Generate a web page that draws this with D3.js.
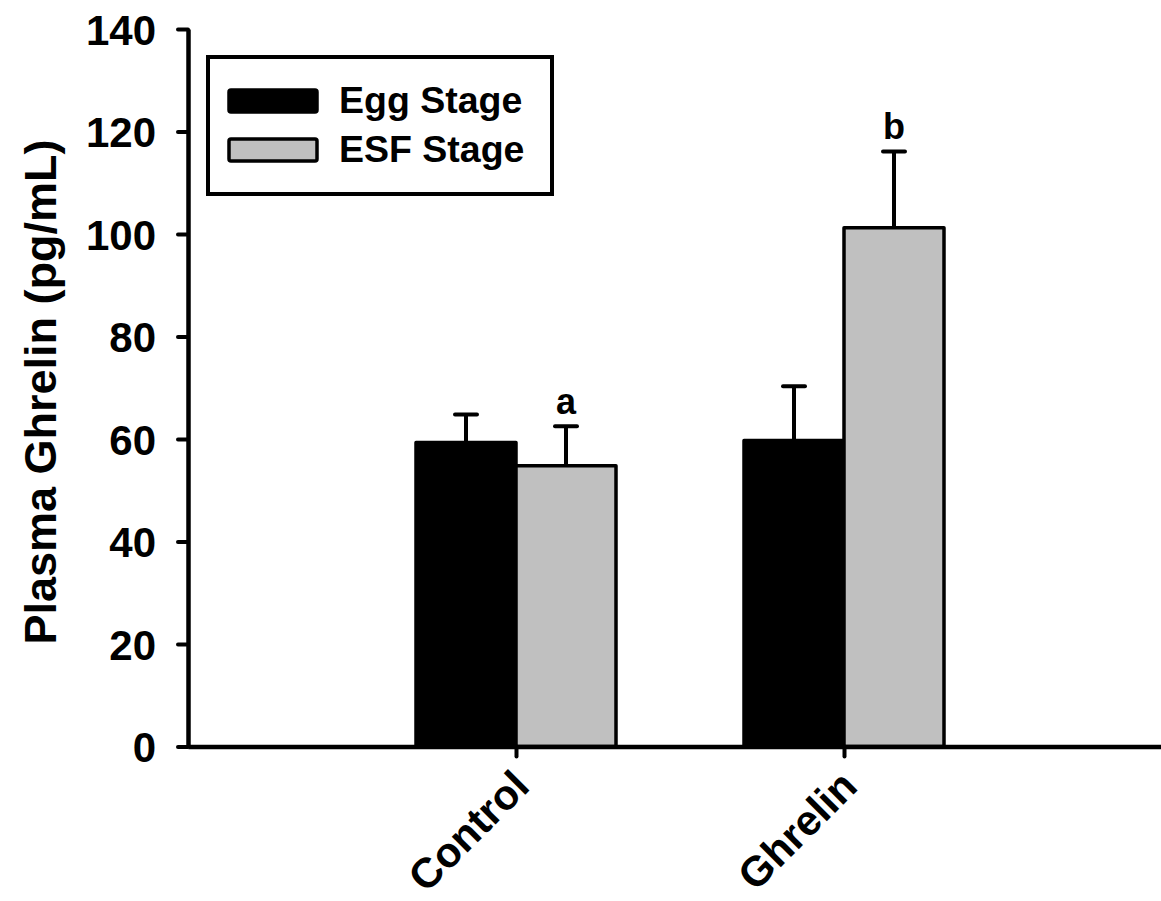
<!DOCTYPE html>
<html>
<head>
<meta charset="utf-8">
<script src="https://cdn.jsdelivr.net/npm/d3@7"></script>
<style>
  html, body { margin: 0; padding: 0; background: #fff; }
  svg { display: block; font-family: "Liberation Sans", Arial, Helvetica, sans-serif; font-weight: bold; }
</style>
</head>
<body>
<svg id="chart" width="1161" height="901"></svg>
<script>
// Plasma ghrelin (pg/mL), mean + SE, by treatment and stage
const groups = ["Control", "Ghrelin"];
const series = ["Egg Stage", "ESF Stage"];
const seriesFill = ["#000000", "#c0c0c0"];
const eggMeans = [59.3, 59.7];
const eggSE = [5.5, 10.6];
const esfMeans = [54.8, 101.2];
const esfSE = [7.7, 14.9];
const eggLetters = ["", ""];
const esfLetters = ["a", "b"];
const yTicks = [0, 20, 40, 60, 80, 100, 120, 140];
const yTitle = "Plasma Ghrelin (pg/mL)";

const rows = [];
groups.forEach((g, i) => {
  rows.push({ group: g, series: series[0], mean: eggMeans[i], se: eggSE[i], letter: eggLetters[i] });
  rows.push({ group: g, series: series[1], mean: esfMeans[i], se: esfSE[i], letter: esfLetters[i] });
});

const svg = d3.select("#chart");
const axisLeftX = 188, axisBaseY = 746.5, axisTopY = 29;

const y = d3.scaleLinear().domain([0, 140]).range([axisBaseY, axisTopY]);
const x = d3.scalePoint().domain(groups).range([axisLeftX, 1172]).padding(1);
const xs = d3.scaleBand().domain(series).range([-100, 100]).padding(0);
const fill = d3.scaleOrdinal().domain(series).range(seriesFill);

// Bars
svg.append("g").selectAll("rect")
  .data(rows)
  .join("rect")
  .attr("x", d => x(d.group) + xs(d.series))
  .attr("y", d => y(d.mean))
  .attr("width", xs.bandwidth())
  .attr("height", d => y(0) - y(d.mean))
  .attr("fill", d => fill(d.series))
  .attr("stroke", "#000")
  .attr("stroke-width", 3.5)
  .attr("stroke-linejoin", "round");

// Upper error bars
const eb = svg.append("g").attr("stroke", "#000").attr("stroke-width", 4);
const cx = d => x(d.group) + xs(d.series) + xs.bandwidth() / 2;
eb.selectAll("line.stem").data(rows).join("line").attr("class", "stem")
  .attr("x1", cx).attr("x2", cx)
  .attr("y1", d => y(d.mean)).attr("y2", d => y(d.mean + d.se));
eb.selectAll("line.cap").data(rows).join("line").attr("class", "cap")
  .attr("stroke-linecap", "round")
  .attr("x1", d => cx(d) - 11).attr("x2", d => cx(d) + 11)
  .attr("y1", d => y(d.mean + d.se)).attr("y2", d => y(d.mean + d.se));

// Significance letters
svg.append("g").selectAll("text")
  .data(rows.filter(d => d.letter))
  .join("text")
  .attr("x", cx)
  .attr("y", d => y(d.mean + d.se) - 12)
  .attr("text-anchor", "middle")
  .attr("font-size", 36)
  .text(d => d.letter);

// Y axis
const yAxis = svg.append("g")
  .attr("transform", `translate(${axisLeftX},0)`)
  .call(d3.axisLeft(y).tickValues(yTicks).tickFormat(d3.format("d")).tickSize(10).tickSizeOuter(0).tickPadding(22));
yAxis.select(".domain").attr("stroke-width", 4.5);
yAxis.selectAll(".tick line").attr("stroke-width", 4).attr("stroke-linecap", "round");
yAxis.selectAll(".tick text")
  .attr("font-size", 42).attr("font-weight", "bold").attr("fill", "#000")
  .attr("font-family", "'Liberation Sans', Arial, sans-serif")
  .attr("dy", "0.36em");

// X axis
const xAxis = svg.append("g")
  .attr("transform", `translate(0,${axisBaseY})`)
  .call(d3.axisBottom(x).tickSize(10).tickSizeOuter(0));
xAxis.select(".domain").attr("stroke-width", 4.5);
xAxis.selectAll(".tick line").attr("stroke-width", 4).attr("stroke-linecap", "round");
xAxis.selectAll(".tick text")
  .attr("font-size", 42).attr("font-weight", "bold").attr("fill", "#000")
  .attr("font-family", "'Liberation Sans', Arial, sans-serif")
  .attr("x", 0).attr("y", 0).attr("dy", 0)
  .attr("text-anchor", "end")
  .attr("transform", "translate(15,42) rotate(-45)");

// Y axis title
svg.append("text")
  .attr("transform", "translate(56,392) rotate(-90)")
  .attr("text-anchor", "middle")
  .attr("font-size", 45)
  .text(yTitle);

// Legend
const legend = svg.append("g");
legend.append("rect")
  .attr("x", 208).attr("y", 57).attr("width", 344).attr("height", 137)
  .attr("fill", "#fff").attr("stroke", "#000").attr("stroke-width", 4);
const items = legend.selectAll("g.item").data(series).join("g").attr("class", "item")
  .attr("transform", (d, i) => `translate(0,${i * 49})`);
items.append("rect")
  .attr("x", 229).attr("y", 90).attr("width", 88).attr("height", 22).attr("rx", 2)
  .attr("fill", d => fill(d)).attr("stroke", "#000").attr("stroke-width", 3.5);
items.append("text")
  .attr("x", 339).attr("y", 112.7)
  .attr("font-size", 37.5)
  .text(d => d);
</script>
</body>
</html>
